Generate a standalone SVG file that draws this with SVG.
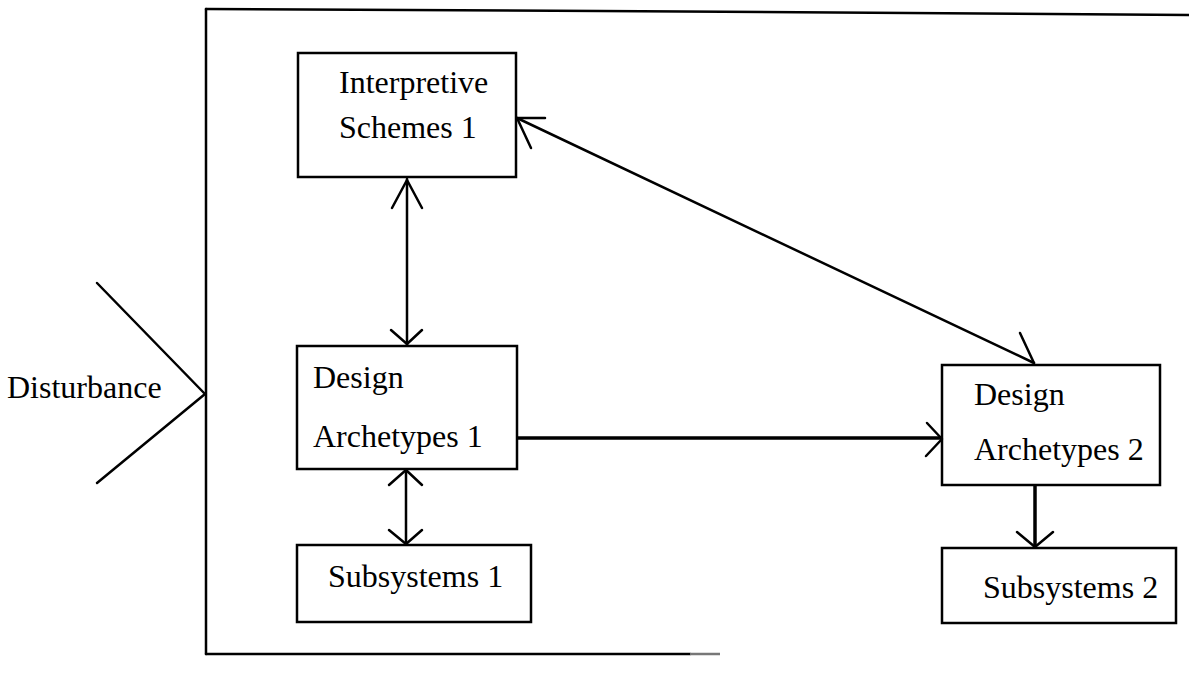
<svg xmlns="http://www.w3.org/2000/svg" width="1189" height="682" viewBox="0 0 1189 682">
  <style>
    .box { fill: #ffffff; stroke: #000000; stroke-width: 2.5; }
    .lbl { font-family: "Liberation Serif", "Times New Roman", serif; font-size: 32px; fill: #000000; }
    .ln { fill: none; stroke: #000000; stroke-width: 2.5; stroke-linecap: round; stroke-linejoin: round; }
    .thick { fill: none; stroke: #000000; stroke-width: 3.5; stroke-linecap: round; stroke-linejoin: round; }
  </style>
  <rect x="0" y="0" width="1189" height="682" fill="#ffffff"/>

  <g id="frame">
    <path class="ln" d="M206,9 L600,11 L1189,15"/>
    <path class="ln" d="M206,9 L206,654"/>
    <path class="ln" d="M206,654 L690,654"/>
    <path d="M690,654 L720,654" stroke="#777777" stroke-width="2.5" fill="none"/>
  </g>

  <g id="disturbance">
    <path class="ln" d="M97,283 L205,394 L97,483"/>
    <text class="lbl" x="7" y="398">Disturbance</text>
  </g>

  <g id="interpretive-schemes-1">
    <rect class="box" x="298" y="53" width="218" height="124"/>
    <text class="lbl" x="339" y="93">Interpretive</text>
    <text class="lbl" x="339" y="138">Schemes 1</text>
  </g>

  <g id="design-archetypes-1">
    <rect class="box" x="297" y="346" width="220" height="123"/>
    <text class="lbl" x="313" y="388">Design</text>
    <text class="lbl" x="313" y="447">Archetypes 1</text>
  </g>

  <g id="subsystems-1">
    <rect class="box" x="297" y="545" width="234" height="77"/>
    <text class="lbl" x="328" y="587">Subsystems 1</text>
  </g>

  <g id="design-archetypes-2">
    <rect class="box" x="942" y="365" width="218" height="120"/>
    <text class="lbl" x="974" y="405">Design</text>
    <text class="lbl" x="974" y="460">Archetypes 2</text>
  </g>

  <g id="subsystems-2">
    <rect class="box" x="942" y="548" width="234" height="75"/>
    <text class="lbl" x="983" y="598">Subsystems 2</text>
  </g>

  <g id="connectors">
    <!-- IS1 <-> DA1 -->
    <path class="ln" d="M407,179 L407,345"/>
    <path class="ln" d="M392,208 L407,180 L422,208"/>
    <path class="ln" d="M391,330 L407,344 L422,330"/>
    <!-- DA1 <-> SS1 -->
    <path class="ln" d="M406,470 L406,544"/>
    <path class="ln" d="M389,485 L406,470 L422,485"/>
    <path class="ln" d="M389,530 L406,544 L422,530"/>
    <!-- DA1 -> DA2 -->
    <path class="thick" d="M518,438 L941,438"/>
    <path class="ln" d="M927,423 L942,439 L926,456"/>
    <!-- IS1 <-> DA2 diagonal -->
    <path class="ln" d="M517,118 L1034,363"/>
    <path class="ln" d="M545,118 L517,118 L531,148"/>
    <path class="ln" d="M1020,333 L1034,363"/>
    <!-- DA2 -> SS2 -->
    <path class="thick" d="M1035,486 L1035,546"/>
    <path class="ln" d="M1017,532 L1035,547 L1053,532"/>
  </g>
</svg>
